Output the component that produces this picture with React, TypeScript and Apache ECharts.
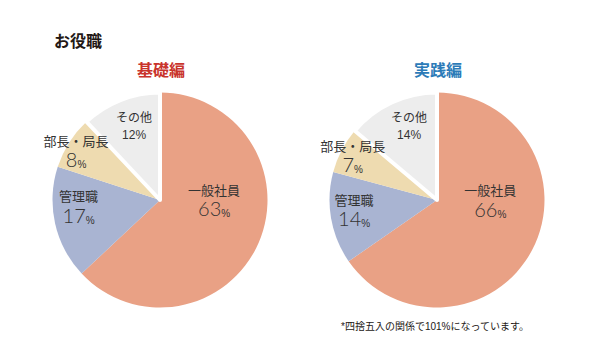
import React, { useEffect, useRef } from "react";
import * as echarts from "echarts";

const categories = ["一般社員", "管理職", "部長・局長", "その他"];
const basicValues = [63, 17, 8, 12];
const practiceValues = [66, 14, 7, 14];
const sliceColors = ["#E9A185", "#A9B4D2", "#EEDBB0", "#EDEDED"];

const pageTitle = "お役職";
const basicTitle = "基礎編";
const practiceTitle = "実践編";
const footnote = "*四捨五入の関係で101%になっています。";

// label nudges (dx, dy) from the library's inside-label anchor
const basicLabelShift = [
  [2, -22],
  [-26, -5],
  [-36, -18],
  [-5, -21],
];
const practiceLabelShift = [
  [3, -25],
  [-27, 1],
  [-34, -17],
  [-4, -22],
];

const FONT = "'Liberation Sans', 'Noto Sans CJK JP', sans-serif";
const NUMFONT = "Lato, 'Liberation Sans', sans-serif";

function makeSeries(values: number[], center: [number, number], shifts: number[][]) {
  return {
    type: "pie",
    center,
    radius: 107.5,
    startAngle: 90,
    clockwise: true,
    silent: true,
    label: {
      show: true,
      position: "inside",
      fontWeight: "normal",
      textBorderWidth: 0,
      textShadowBlur: 0,
      formatter: (p: any) =>
        p.dataIndex === 3
          ? `{sn|${p.name}}\n{sv|${p.value}%}`
          : `{n|${p.name}}\n{v|${p.value}}{p|%}`,
      rich: {
        n: { fontSize: 13, lineHeight: 15, color: "#333", fontFamily: FONT, fontWeight: "normal", textBorderWidth: 0 },
        v: { fontSize: 20, lineHeight: 21, color: "#333", fontFamily: NUMFONT, fontWeight: 300, textBorderWidth: 0 },
        p: { fontSize: 10, lineHeight: 21, color: "#333", fontFamily: FONT, fontWeight: "normal", verticalAlign: "bottom", textBorderWidth: 0 },
        sn: { fontSize: 12, lineHeight: 17, color: "#333", fontFamily: FONT, fontWeight: "normal", textBorderWidth: 0 },
        sv: { fontSize: 12, lineHeight: 17, color: "#333", fontFamily: FONT, fontWeight: "normal", textBorderWidth: 0 },
      },
    },
    labelLine: { show: false },
    labelLayout: (params: any) => {
      const s = shifts[params.dataIndex] || [0, 0];
      return { dx: s[0], dy: s[1] };
    },
    data: categories.map((name, i) => ({
      name,
      value: values[i],
      itemStyle:
        i === 3
          ? { color: sliceColors[i], borderColor: "#ffffff", borderWidth: 4 }
          : { color: sliceColors[i], borderWidth: 0 },
    })),
  };
}

export default function App() {
  const ref = useRef<HTMLDivElement>(null);

  useEffect(() => {
    if (!ref.current) return;
    const chart = echarts.init(ref.current, null, { renderer: "svg" });
    chart.setOption({
      animation: false,
      backgroundColor: "#ffffff",
      title: [
        {
          text: pageTitle,
          left: 54,
          top: 33,
          padding: 0,
          textStyle: { fontSize: 16, fontWeight: "bold", color: "#231815", fontFamily: FONT },
        },
        {
          text: basicTitle,
          left: 161,
          top: 62,
          padding: 0,
          textAlign: "center",
          textStyle: { fontSize: 16, fontWeight: "bold", color: "#C9342C", fontFamily: FONT },
        },
        {
          text: practiceTitle,
          left: 438,
          top: 62,
          padding: 0,
          textAlign: "center",
          textStyle: { fontSize: 16, fontWeight: "bold", color: "#2C7BB8", fontFamily: FONT },
        },
        {
          text: footnote,
          left: 341,
          top: 321,
          padding: 0,
          textStyle: { fontSize: 10, fontWeight: "normal", color: "#231815", fontFamily: FONT },
        },
      ],
      series: [
        makeSeries(basicValues, [160, 200], basicLabelShift),
        makeSeries(practiceValues, [437, 200], practiceLabelShift),
      ],
    });
    return () => chart.dispose();
  }, []);

  return <div ref={ref} style={{ width: 600, height: 364, margin: -8 }} />;
}
